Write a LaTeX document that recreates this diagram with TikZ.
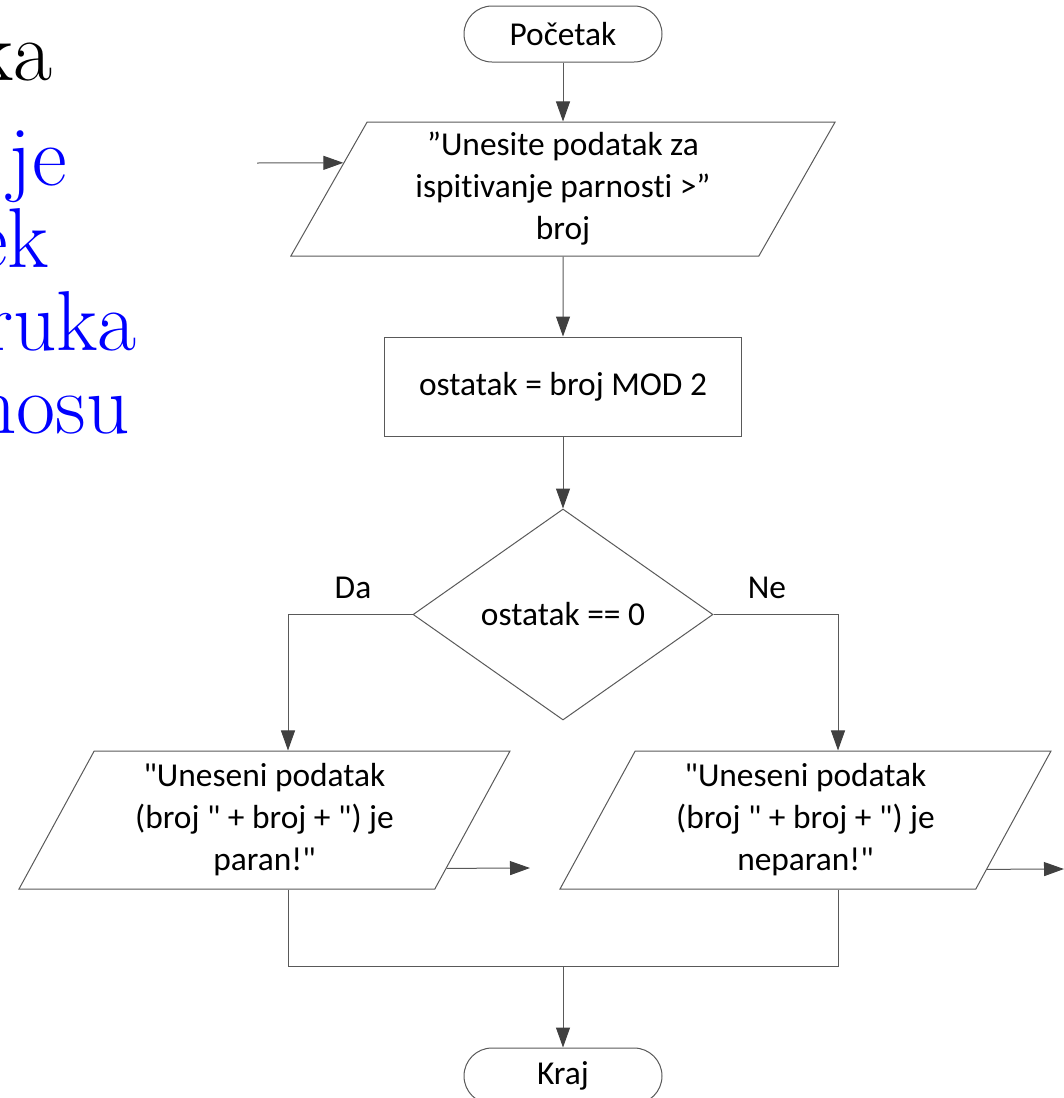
\documentclass[tikz,border=0pt]{standalone}
\usepackage{fontspec}
\setsansfont{Carlito}[Ligatures={NoCommon,TeXOff}]
\usetikzlibrary{shapes.geometric,arrows.meta,calc}
\definecolor{edge}{HTML}{595959}
\definecolor{tipgray}{HTML}{404040}
\definecolor{slideblue}{RGB}{0,0,255}
\tikzset{
  flowtext/.style={font=\sffamily\fontsize{33.4}{42}\selectfont, text=black, align=center},
  shapeline/.style={draw=edge, line width=1pt},
  terminal/.style={flowtext, shapeline, rectangle, rounded corners=28pt,
    minimum width=198pt, minimum height=56pt, inner sep=0pt},
  iobox/.style={flowtext, shapeline, trapezium, trapezium left angle=63.1,
    trapezium right angle=116.9, trapezium stretches=true, inner sep=0pt},
  procbox/.style={flowtext, shapeline, rectangle, minimum width=357pt,
    minimum height=99pt, inner sep=0pt},
  decision/.style={flowtext, shapeline, diamond, minimum width=300pt,
    minimum height=211pt, inner sep=0pt},
  flow/.style={draw=edge, line width=1pt,
    -{Triangle[length=20pt,width=14pt,color=tipgray,fill=tipgray]}},
  plain/.style={draw=edge, line width=1pt},
  branchlabel/.style={flowtext, inner sep=0pt},
  slidetext/.style={font=\rmfamily\fontsize{85}{85}\selectfont,
    anchor=base east, inner sep=0pt}
}
\begin{document}
\begin{tikzpicture}[x=1pt,y=-1pt]
  \useasboundingbox (0,0) rectangle (1064,1098);
  \clip (0,0) rectangle (1064,1098);

  % slide text running in from the left
  \node[slidetext, text=black] (title) at (53,80) {ka};
  \node[slidetext, text=slideblue] (lineA) at (67,185) {a je};
  \node[slidetext, text=slideblue] (lineB) at (49,267) {ek};
  \node[slidetext, text=slideblue] (lineC) at (137,350) {ruka};
  \node[slidetext, text=slideblue] (lineD) at (130,433) {nosu};

  % flowchart nodes
  \node[terminal] (start) at (563,34) {Početak};
  \node[iobox, minimum width=547pt, minimum height=134pt] (in1) at (563,189)
    {”Unesite podatak za\\ispitivanje parnosti >”\\broj};
  \node[procbox] (calc) at (563,386.5) {ostatak = broj MOD 2};
  \node[decision] (test) at (563,614.5) {ostatak == 0};
  \node[iobox, minimum width=493pt, minimum height=138pt] (even) at (264.5,820)
    {"Uneseni podatak\\(broj " + broj + ") je\\paran!"};
  \node[iobox, minimum width=493pt, minimum height=138pt] (odd) at (805.5,820)
    {"Uneseni podatak\\(broj " + broj + ") je\\neparan!"};
  \node[terminal] (stop) at (563,1076) {Kraj};

  \node[branchlabel] (yes) at (353,588) {Da};
  \node[branchlabel] (no) at (767,588) {Ne};

  % helper coordinates
  \coordinate (feed) at (257,163);
  \coordinate (leftx) at (288,614.5);
  \coordinate (rightx) at (838,614.5);
  \coordinate (join) at (563,966);
  \coordinate (evenout) at (530,868);
  \coordinate (oddout) at (1064,869);

  % connectors
  \draw[flow] (start.south) -- (start.south |- in1.north);
  \draw[flow] (feed) -- ($(in1.bottom left corner)!0.694!(in1.top left corner)$);
  \draw[flow] (in1.south) -- (calc.north);
  \draw[flow] (calc.south) -- (test.north);
  \draw[flow] (test.west) -- (leftx) -- (leftx |- even.north);
  \draw[flow] (test.east) -- (rightx) -- (rightx |- odd.north);
  \draw[flow] ($(even.bottom right corner)!0.152!(even.top right corner)$) -- (evenout);
  \draw[flow] ($(odd.bottom right corner)!0.145!(odd.top right corner)$) -- (oddout);
  \draw[plain] (leftx |- even.south) -- (leftx |- join) -- (rightx |- join) -- (rightx |- odd.south);
  \draw[flow] (join) -- (stop.north);
\end{tikzpicture}
\end{document}
